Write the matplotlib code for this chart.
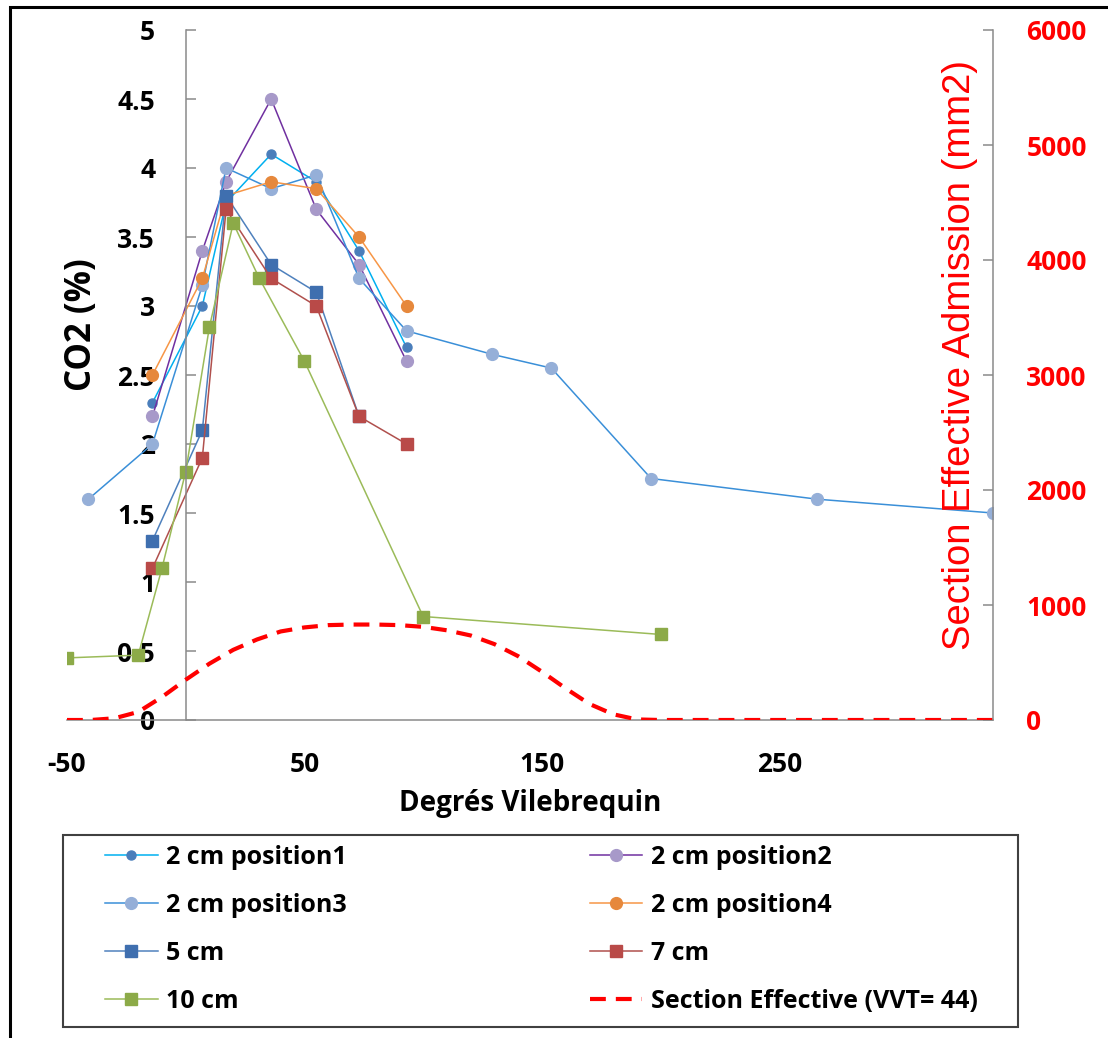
import matplotlib
matplotlib.use("Agg")
import matplotlib.pyplot as plt
from matplotlib.patches import Rectangle
from matplotlib.ticker import FuncFormatter

plt.rcParams["axes.unicode_minus"] = False

# crank angle positions (deg) and CO2 (%)
x_pos = [-14, 7, 17, 36, 55, 73, 93]
co2_pos1 = [2.3, 3.0, 3.75, 4.1, 3.9, 3.4, 2.7]
co2_pos2 = [2.2, 3.4, 3.9, 4.5, 3.7, 3.3, 2.6]
co2_pos4 = [2.5, 3.2, 3.8, 3.9, 3.85, 3.5, 3.0]

x_pos3 = [-41, -14, 7, 17, 36, 55, 73, 93, 129, 154, 196, 266, 340]
co2_pos3 = [1.6, 2.0, 3.15, 4.0, 3.85, 3.95, 3.2, 2.82, 2.65, 2.55, 1.75, 1.6, 1.5]

x_5cm = [-14, 7, 17, 36, 55, 73]
co2_5cm = [1.3, 2.1, 3.8, 3.3, 3.1, 2.2]

x_7cm = [-14, 7, 17, 36, 55, 73, 93]
co2_7cm = [1.1, 1.9, 3.7, 3.2, 3.0, 2.2, 2.0]

x_10cm = [-50, -20, -10, 0, 10, 20, 31, 50, 100, 200]
co2_10cm = [0.45, 0.47, 1.1, 1.8, 2.85, 3.6, 3.2, 2.6, 0.75, 0.62]

# effective intake section (mm2)
x_sec = [-50, -40, -30, -20, -10, 0, 10, 20, 30, 40, 50, 60, 70, 80, 90, 100,
         110, 120, 130, 140, 150, 160, 170, 180, 190, 200, 250, 300, 340]
sec = [0, 0, 15, 70, 200, 350, 490, 610, 700, 770, 805, 825, 830, 830, 825, 810,
       780, 735, 660, 555, 420, 275, 140, 50, 5, 0, 0, 0, 0]

W, H = 1108, 1038
fig = plt.figure(figsize=(W / 100, H / 100), dpi=100)
fig.patch.set_facecolor("white")

ax = fig.add_axes([67 / W, 1 - 720 / H, (993 - 67) / W, 690 / H])
ax2 = ax.twinx()

lw = 1.1
l1, = ax.plot(x_pos, co2_pos1, color="#00B0F0", lw=lw, marker="o", ms=6.5,
              mfc="#4A7EBB", mec="#4A7EBB", label="2 cm position1")
l2, = ax.plot(x_pos, co2_pos2, color="#7030A0", lw=lw, marker="o", ms=8.5,
              mfc="#A799C9", mec="#A799C9", label="2 cm position2")
l3, = ax.plot(x_pos3, co2_pos3, color="#3A8FD8", lw=lw, marker="o", ms=8.5,
              mfc="#95AFD8", mec="#95AFD8", label="2 cm position3")
l4, = ax.plot(x_pos, co2_pos4, color="#F79646", lw=lw, marker="o", ms=8.5,
              mfc="#E6883C", mec="#E6883C", label="2 cm position4")
l5, = ax.plot(x_5cm, co2_5cm, color="#4F81BD", lw=lw, marker="s", ms=8.5,
              mfc="#3F6FAF", mec="#3F6FAF", label="5 cm")
l7, = ax.plot(x_7cm, co2_7cm, color="#B0504D", lw=lw, marker="s", ms=8.5,
              mfc="#B94A48", mec="#B94A48", label="7 cm")
l10, = ax.plot(x_10cm, co2_10cm, color="#9BBB59", lw=lw, marker="s", ms=8.5,
               mfc="#8CAA48", mec="#8CAA48", label="10 cm")
ls, = ax2.plot(x_sec, sec, color="#FF0000", lw=3, dashes=(3.8, 2.4),
               label="Section Effective (VVT= 44)")

ax.set_xlim(-50, 340)
ax.set_ylim(0, 5)
ax2.set_ylim(0, 6000)
ax.set_xticks([-50, 50, 150, 250])
ax.set_yticks([i * 0.5 for i in range(11)])
ax2.set_yticks(range(0, 7000, 1000))
ax.yaxis.set_major_formatter(FuncFormatter(lambda v, p: "{:g}".format(v)))

grey = "#8A8A8A"
for a in (ax, ax2):
    for s in a.spines.values():
        s.set_visible(False)
ax.spines["left"].set_visible(True)
ax.spines["left"].set_position(("data", 0))
ax.spines["bottom"].set_visible(True)
ax2.spines["right"].set_visible(True)
for s in (ax.spines["left"], ax.spines["bottom"], ax2.spines["right"]):
    s.set_color(grey)
    s.set_linewidth(1.1)

fam = "Open Sans"
bold = dict(family=fam, weight="bold")
ax.tick_params(axis="y", direction="in", length=7, width=1.1, color=grey, pad=22,
               labelsize=19, labelcolor="black")
ax.tick_params(axis="x", length=0, pad=22, labelsize=19, labelcolor="black")
ax2.tick_params(axis="y", direction="in", length=7, width=1.1, color=grey, pad=24,
                labelsize=19, labelcolor="#FF0000")
for t in ax.get_xticklabels() + ax.get_yticklabels() + ax2.get_yticklabels():
    t.set_fontfamily(fam)
    t.set_fontweight("bold")

fig.text(82 / W, 1 - 325 / H, "CO2 (%)", rotation=90, ha="center", va="center",
         fontsize=25, **bold)
fig.text(530 / W, 1 - 803 / H, "Degrés Vilebrequin", ha="center", va="center",
         fontsize=20, **bold)
fig.text(960 / W, 1 - 355 / H, "Section Effective Admission (mm2)", rotation=90,
         ha="center", va="center", fontsize=27.5, family="Liberation Sans",
         color="#FF0000")

# legend box and outer frame
fig.patches.append(Rectangle((63 / W, 1 - 1027 / H), 955 / W, 192 / H,
                             transform=fig.transFigure, fill=False,
                             edgecolor="#404040", lw=1.5))
fig.patches.append(Rectangle((10 / W, -0.05), 1.1, 1 - 7 / H + 0.05,
                             transform=fig.transFigure, fill=False,
                             edgecolor="black", lw=2.2))

handles = [l1, l3, l5, l10, l2, l4, l7, ls]
fig.legend(handles, [h.get_label() for h in handles], ncol=2, mode="expand",
           loc="upper left", bbox_to_anchor=(105 / W, 1 - 1020 / H, 873 / W, 175 / H),
           frameon=False, borderpad=0, borderaxespad=0, handlelength=2.1,
           handletextpad=0.35, labelspacing=0.92,
           prop=dict(family=fam, weight="bold", size=18))

fig.savefig("out.png", dpi=100)
